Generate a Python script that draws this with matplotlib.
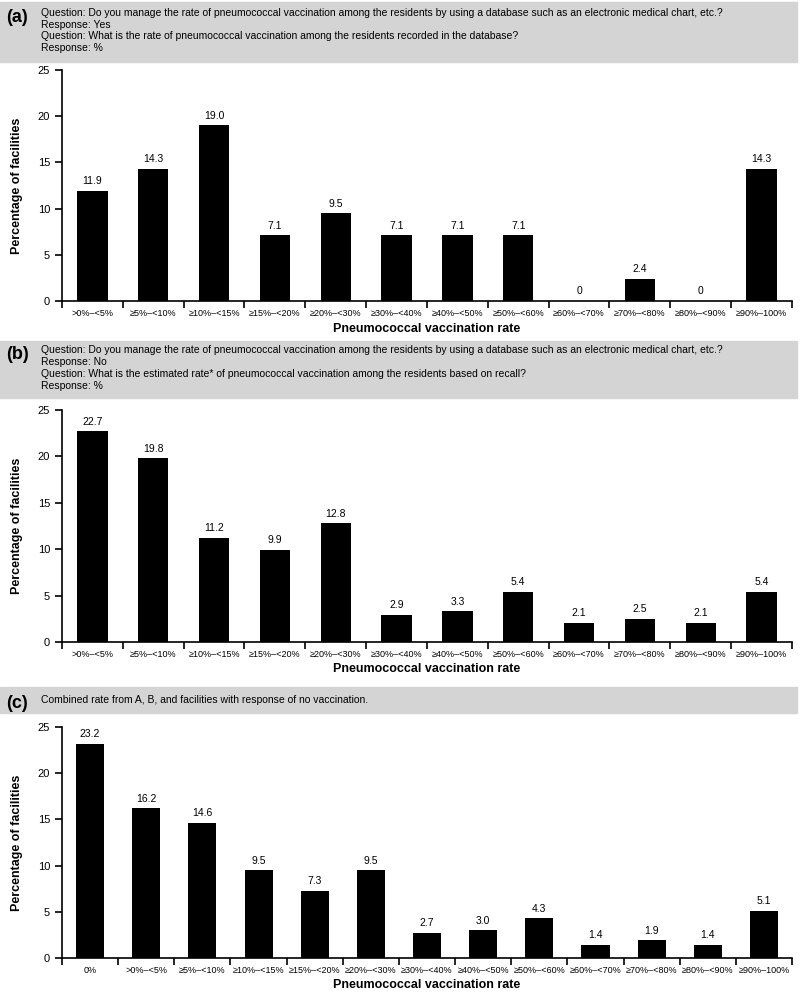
import matplotlib.pyplot as plt
from matplotlib.patches import Rectangle

plt.rcParams['font.family'] = ['Liberation Sans', 'DejaVu Sans']

cats_ab = ['>0%\u2013<5%', '\u22655%\u2013<10%', '\u226510%\u2013<15%', '\u226515%\u2013<20%',
           '\u226520%\u2013<30%', '\u226530%\u2013<40%', '\u226540%\u2013<50%', '\u226550%\u2013<60%',
           '\u226560%\u2013<70%', '\u226570%\u2013<80%', '\u226580%\u2013<90%', '\u226590%\u2013100%']
cats_c = ['0%'] + cats_ab

vals_a = [11.9, 14.3, 19.0, 7.1, 9.5, 7.1, 7.1, 7.1, 0, 2.4, 0, 14.3]
vals_b = [22.7, 19.8, 11.2, 9.9, 12.8, 2.9, 3.3, 5.4, 2.1, 2.5, 2.1, 5.4]
vals_c = [23.2, 16.2, 14.6, 9.5, 7.3, 9.5, 2.7, 3.0, 4.3, 1.4, 1.9, 1.4, 5.1]

head_a = ['Question: Do you manage the rate of pneumococcal vaccination among the residents by using a database such as an electronic medical chart, etc.?',
          'Response: Yes',
          'Question: What is the rate of pneumococcal vaccination among the residents recorded in the database?',
          'Response: %']
head_b = ['Question: Do you manage the rate of pneumococcal vaccination among the residents by using a database such as an electronic medical chart, etc.?',
          'Response: No',
          'Question: What is the estimated rate* of pneumococcal vaccination among the residents based on recall?',
          'Response: %']
head_c = ['Combined rate from A, B, and facilities with response of no vaccination.']

W, H = 800, 992
fig = plt.figure(figsize=(W / 100, H / 100), dpi=100)


def header(top, bottom, tag, lines, y0, step):
    fig.patches.append(Rectangle((0, 1 - bottom / H), 797 / W, (bottom - top) / H,
                                 transform=fig.transFigure, color='#d4d4d4', zorder=0))
    fig.text(6 / W, 1 - (y0 + 4) / H, tag, fontsize=13, fontweight='bold', va='center')
    for i, line in enumerate(lines):
        fig.text(41 / W, 1 - (y0 + i * step) / H, line, fontsize=7.45, va='center')


def panel(top, bottom, cats, vals):
    ax = fig.add_axes([62 / W, 1 - bottom / H, 730 / W, (bottom - top) / H])
    x = range(len(cats))
    ax.bar(x, vals, width=0.5, color='black')
    for xi, v in zip(x, vals):
        txt = '0' if v == 0 else f'{v:.1f}'
        ax.text(xi, v + 0.5, txt, ha='center', va='bottom', fontsize=7.5)
    ax.set_xlim(-0.5, len(cats) - 0.5)
    ax.set_ylim(0, 25)
    ax.set_yticks([0, 5, 10, 15, 20, 25])
    ax.set_xticks([i - 0.5 for i in range(len(cats) + 1)])
    ax.set_xticklabels([])
    ax.set_xticks(list(x), minor=True)
    ax.set_xticklabels(cats, minor=True, fontsize=6.5)
    ax.tick_params(axis='x', which='minor', length=0, pad=6)
    ax.tick_params(axis='x', which='major', length=5, width=1.2)
    ax.tick_params(axis='y', length=5, width=1.2, labelsize=8)
    for s in ['top', 'right']:
        ax.spines[s].set_visible(False)
    for s in ['left', 'bottom']:
        ax.spines[s].set_linewidth(1.2)
    ax.set_xlabel('Pneumococcal vaccination rate', fontsize=9, fontweight='bold', labelpad=3)
    ax.set_ylabel('Percentage of facilities', fontsize=9, fontweight='bold', labelpad=11)
    return ax


header(2, 62, '(a)', head_a, 13, 11.6)
panel(70, 301, cats_ab, vals_a)
header(341, 398, '(b)', head_b, 350, 12)
panel(410, 642, cats_ab, vals_b)
header(687, 713, '(c)', head_c, 700, 11)
panel(727, 958, cats_c, vals_c)

fig.savefig('out.png', dpi=100)
